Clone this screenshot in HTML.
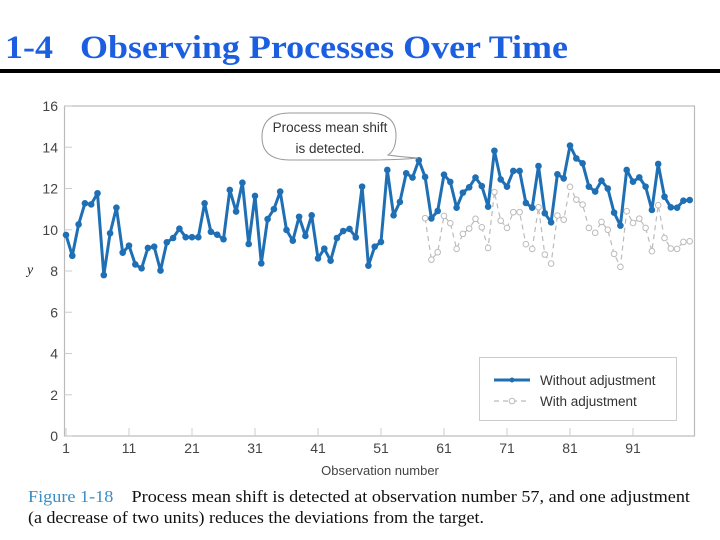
<!DOCTYPE html>
<html><head><meta charset="utf-8"><style>
html,body{margin:0;padding:0;background:#fff;width:720px;height:540px;overflow:hidden}
svg{display:block}
</style></head><body>
<svg id="chart" width="720" height="540" viewBox="0 0 720 540" xmlns="http://www.w3.org/2000/svg">
<text x="5" y="58" font-family="Liberation Serif, serif" font-weight="bold" font-size="33" fill="#1b5fe0" textLength="563" lengthAdjust="spacingAndGlyphs" xml:space="preserve">1-4   Observing Processes Over Time</text>
<rect x="0" y="69" width="720" height="4" fill="#000"/>
<rect x="64.5" y="106" width="630" height="330" fill="none" stroke="#bbb" stroke-width="1.2"/>
<g id="yaxis"></g>
<g id="xaxis"></g>
<text x="27" y="274" font-family="Liberation Serif, serif" font-style="italic" font-size="14" fill="#222">y</text>
<text x="380" y="475" text-anchor="middle" font-family="Liberation Sans, sans-serif" font-size="13" fill="#444">Observation number</text>
<g id="series"></g>
<g>
<path d="M290,113 L368,113 Q396,113 396,135 Q396,150 388,155 Q402,157 418,158 Q398,160 368,160 L290,160 Q262,160 262,137 Q262,113 290,113 Z" fill="#fff" stroke="#999" stroke-width="1"/>
<text x="330" y="132" text-anchor="middle" font-family="Liberation Sans, sans-serif" font-size="13.5" fill="#333">Process mean shift</text>
<text x="330" y="153" text-anchor="middle" font-family="Liberation Sans, sans-serif" font-size="13.5" fill="#333">is detected.</text>
</g>
<g>
<rect x="479.5" y="357.5" width="197" height="63" fill="#fff" stroke="#ccc" stroke-width="1"/>
<g>
<line x1="494" y1="380" x2="530" y2="380" stroke="#1f6fb5" stroke-width="3"/>
<circle cx="512" cy="380" r="2.5" fill="#1f6fb5"/>
<text x="540" y="385" font-family="Liberation Sans, sans-serif" font-size="13.5" fill="#333">Without adjustment</text>
</g>
<g>
<line x1="494" y1="401" x2="530" y2="401" stroke="#bbb" stroke-width="1.2" stroke-dasharray="5,4"/>
<circle cx="512" cy="401" r="2.8" fill="#fff" stroke="#bbb" stroke-width="1"/>
<text x="540" y="406" font-family="Liberation Sans, sans-serif" font-size="13.5" fill="#333">With adjustment</text>
</g>
</g>
<text x="28" y="502" font-family="Liberation Serif, serif" font-size="17" textLength="662" lengthAdjust="spacingAndGlyphs" xml:space="preserve"><tspan fill="#3a8dc4">Figure 1-18</tspan><tspan fill="#111">    Process mean shift is detected at observation number 57, and one adjustment</tspan></text>
<text x="28" y="523" font-family="Liberation Serif, serif" font-size="17" fill="#111" textLength="456" lengthAdjust="spacingAndGlyphs">(a decrease of two units) reduces the deviations from the target.</text>
</svg>
<script>
const yTicks = [0,2,4,6,8,10,12,14,16];
const xTicks = [1,11,21,31,41,51,61,71,81,91];
const withoutAdj = [9.75,8.74,10.26,11.28,11.23,11.77,7.8,9.83,11.07,8.89,
9.23,8.32,8.13,9.12,9.18,8.02,9.39,9.6,10.05,9.64,
9.64,9.64,11.28,9.9,9.76,9.54,11.93,10.88,12.28,9.31,
11.64,8.37,10.52,11.0,11.85,9.99,9.47,10.63,9.7,10.7,
8.61,9.08,8.5,9.6,9.94,10.04,9.63,12.09,8.26,9.18,
9.41,12.9,10.7,11.35,12.74,12.53,13.37,12.56,10.55,10.91,
12.67,12.32,11.07,11.8,12.06,12.53,12.12,11.12,13.83,12.44,
12.09,12.85,12.85,11.3,11.07,13.09,10.8,10.36,12.69,12.49,
14.08,13.46,13.22,12.09,11.85,12.38,12.0,10.83,10.2,12.9,
12.33,12.54,12.09,10.96,13.19,11.6,11.09,11.07,11.41,11.44];
const adjustStart = 58;
const adjustAmount = 2;
const withAdj = withoutAdj.slice(adjustStart-1).map(v => v - adjustAmount);

const NS = 'http://www.w3.org/2000/svg';
function xs(o){ return 66 + (o-1)*6.3; }
function ys(v){ return 436 - v*20.625; }
function mk(tag, attrs, parent){ const e=document.createElementNS(NS,tag); for(const k in attrs) e.setAttribute(k,attrs[k]); parent.appendChild(e); return e; }

const ya = document.getElementById('yaxis');
yTicks.forEach(t => {
  const l = mk('line',{x1:64.5,x2:72,y1:ys(t),y2:ys(t),stroke:'#ccc','stroke-width':1},ya);
  
  
  const tx = mk('text',{x:58,y:ys(t)+5,'text-anchor':'end','font-family':'Liberation Sans, sans-serif','font-size':14,fill:'#444'},ya);
  tx.textContent = t;
  
  
});
const xa = document.getElementById('xaxis');
xTicks.forEach(t => {
  const l = mk('line',{x1:xs(t),x2:xs(t),y1:428,y2:436,stroke:'#ccc','stroke-width':1},xa);
  
  
  const tx = mk('text',{x:xs(t),y:453,'text-anchor':'middle','font-family':'Liberation Sans, sans-serif','font-size':14,fill:'#444'},xa);
  tx.textContent = t;
  
  
});

const sg = document.getElementById('series');
const gp = withAdj.map((v,i)=>xs(adjustStart+i).toFixed(1)+','+ys(v).toFixed(1)).join(' ');
const gl = mk('polyline',{points:gp,fill:'none',stroke:'#bbb','stroke-width':1.2,'stroke-dasharray':'5,4'},sg);


withAdj.forEach((v,i)=>{
  const c = mk('circle',{cx:xs(adjustStart+i),cy:ys(v),r:2.8,fill:'#fff',stroke:'#bbb','stroke-width':1},sg);
  
  
});
const bp = withoutAdj.map((v,i)=>xs(i+1).toFixed(1)+','+ys(v).toFixed(1)).join(' ');
const bl = mk('polyline',{points:bp,fill:'none',stroke:'#1f6fb5','stroke-width':3,'stroke-linejoin':'round'},sg);


withoutAdj.forEach((v,i)=>{
  const c = mk('circle',{cx:xs(i+1),cy:ys(v),r:3.3,fill:'#1f6fb5'},sg);
  
  
});
</script>
</body></html>
